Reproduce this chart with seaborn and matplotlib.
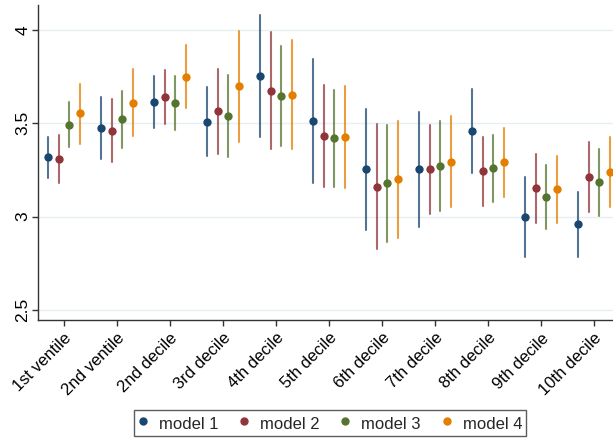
import numpy as np
import pandas as pd
import matplotlib
matplotlib.use("Agg")
import matplotlib.pyplot as plt
import seaborn as sns
from matplotlib.lines import Line2D

categories = ["1st ventile", "2nd ventile", "2nd decile", "3rd decile", "4th decile",
              "5th decile", "6th decile", "7th decile", "8th decile", "9th decile", "10th decile"]
models = ["model 1", "model 2", "model 3", "model 4"]

est_m1 = [3.317, 3.473, 3.614, 3.507, 3.752, 3.514, 3.253, 3.253, 3.458, 2.999, 2.958]
lo_m1 = [3.205, 3.307, 3.476, 3.326, 3.425, 3.181, 2.928, 2.945, 3.233, 2.784, 2.783]
hi_m1 = [3.428, 3.641, 3.753, 3.693, 4.080, 3.843, 3.576, 3.559, 3.684, 3.213, 3.131]

est_m2 = [3.310, 3.460, 3.643, 3.564, 3.675, 3.433, 3.160, 3.253, 3.242, 3.151, 3.213]
lo_m2 = [3.181, 3.292, 3.498, 3.335, 3.362, 3.160, 2.824, 3.013, 3.058, 2.967, 3.026]
hi_m2 = [3.439, 3.628, 3.786, 3.793, 3.987, 3.705, 3.498, 3.491, 3.426, 3.334, 3.398]

est_m3 = [3.492, 3.521, 3.610, 3.541, 3.646, 3.419, 3.180, 3.271, 3.258, 3.105, 3.183]
lo_m3 = [3.371, 3.367, 3.465, 3.321, 3.378, 3.157, 2.865, 3.028, 3.079, 2.931, 3.004]
hi_m3 = [3.616, 3.673, 3.753, 3.760, 3.916, 3.678, 3.491, 3.510, 3.437, 3.278, 3.360]

est_m4 = [3.553, 3.610, 3.748, 3.698, 3.653, 3.426, 3.201, 3.294, 3.291, 3.146, 3.237]
lo_m4 = [3.390, 3.432, 3.580, 3.401, 3.364, 3.151, 2.886, 3.051, 3.106, 2.967, 3.053]
hi_m4 = [3.712, 3.789, 3.920, 3.995, 3.946, 3.698, 3.514, 3.537, 3.475, 3.323, 3.425]

colors = ["#1a476f", "#90353b", "#55752f", "#e37e00"]
yticks = [2.5, 3, 3.5, 4]
ytick_labels = ["2.5", "3", "3.5", "4"]

series = {
    "model 1": (est_m1, lo_m1, hi_m1),
    "model 2": (est_m2, lo_m2, hi_m2),
    "model 3": (est_m3, lo_m3, hi_m3),
    "model 4": (est_m4, lo_m4, hi_m4),
}
rows = []
for m, (e, l, h) in series.items():
    for c, ev, lv, hv in zip(categories, e, l, h):
        for v in (lv, ev, hv):
            rows.append({"cat": c, "model": m, "value": v})
df = pd.DataFrame(rows)

sns.set_theme(style="white")
plt.rcParams["font.family"] = ["Liberation Sans", "DejaVu Sans"]

fig = plt.figure(figsize=(6.13, 4.40), dpi=100)
ax = fig.add_axes([38 / 613, 1 - 320 / 440, 1 - 38 / 613, 315 / 440])

sns.pointplot(data=df, x="cat", y="value", hue="model", order=categories,
              hue_order=models, palette=colors, estimator=np.median,
              errorbar=lambda x: (x.min(), x.max()), dodge=0.6,
              linestyle="none", markers="o", markersize=6.0, markeredgewidth=0,
              err_kws={"linewidth": 1.5, "alpha": 0.75}, capsize=0, ax=ax)

ax.set_xlim(-0.49, 10.36)
ax.set_ylim(2.446, 4.134)
ax.set_yticks(yticks)
ax.set_yticklabels(ytick_labels, rotation=90, va="center", fontsize=12.5)
ax.grid(axis="y", color="#e6eff1", linewidth=1)
ax.set_axisbelow(True)
ax.set_xlabel("")
ax.set_ylabel("")
ax.set_xticks(range(len(categories)))
ax.set_xticklabels(categories, rotation=45, ha="right", rotation_mode="anchor", fontsize=12)
for s in ["top", "right"]:
    ax.spines[s].set_visible(False)
for s in ["left", "bottom"]:
    ax.spines[s].set_color("#333333")
    ax.spines[s].set_linewidth(1.0)
ax.tick_params(axis="both", which="major", length=4.5, width=1, color="#333333",
               direction="out", bottom=True, left=True, labelcolor="black")
ax.tick_params(axis="y", pad=1)
ax.tick_params(axis="x", pad=3)

ax.get_legend().remove()
handles = [Line2D([], [], marker="o", linestyle="none", color=c, markersize=5) for c in colors]
leg = fig.legend(handles, models, ncol=4, loc="center", bbox_to_anchor=(330 / 613, 1 - 423 / 440),
                 frameon=True, fancybox=False, fontsize=12, handletextpad=0.66,
                 columnspacing=1.25, handlelength=0.6, handleheight=1.35, borderpad=0.2)
leg.get_frame().set_edgecolor("#333333")
leg.get_frame().set_linewidth(1.0)

fig.savefig("out.png", dpi=100)
